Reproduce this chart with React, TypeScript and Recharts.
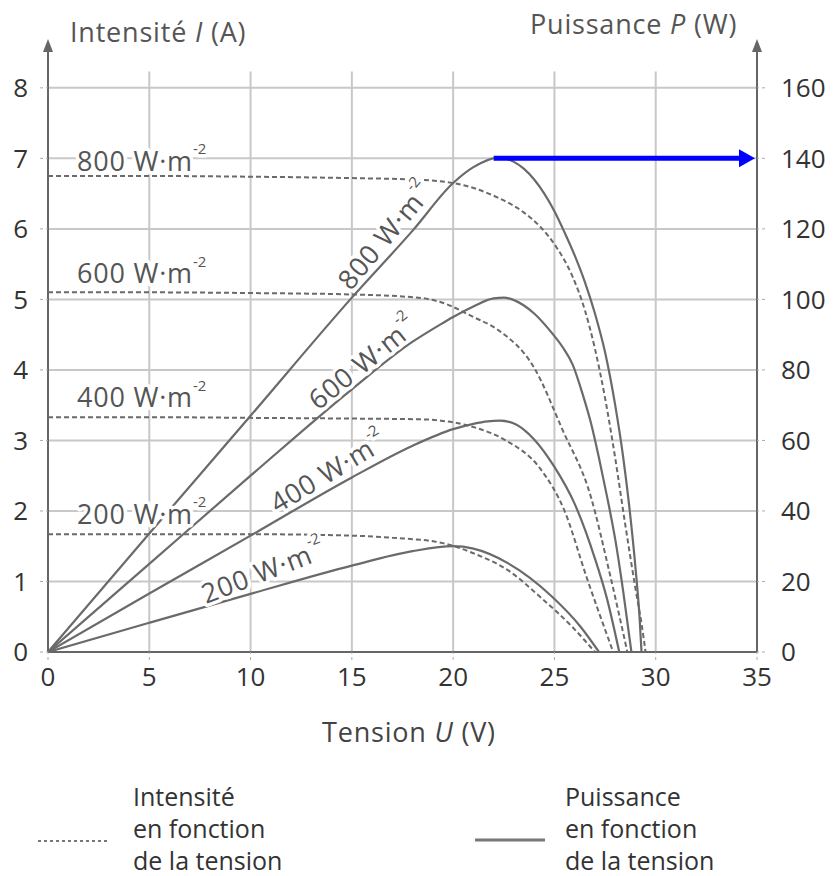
import React from "react"
import { LineChart, Line, XAxis, YAxis, ReferenceLine, ReferenceDot } from "recharts"

// Intensité I (A) en fonction de la tension U (V) — pointillés
const uI800 = [0, 5, 10, 15, 18, 20, 22, 23.5, 24.3, 25.1, 25.9, 26.5, 27, 27.5, 28, 28.5, 29, 29.3, 29.5]
const i800 = [6.75, 6.75, 6.74, 6.72, 6.7, 6.65, 6.47, 6.23, 6.03, 5.74, 5.32, 4.85, 4.3, 3.6, 2.75, 1.8, 0.9, 0.4, 0]
const uI600 = [0, 5, 10, 15, 18.4, 19.4, 21, 22.2, 24, 25.4, 26.8, 27.7, 28.6]
const i600 = [5.1, 5.1, 5.09, 5.07, 5.02, 4.96, 4.75, 4.57, 4.03, 3.15, 2.2, 1.15, 0]
const uI400 = [0, 5, 10, 15, 18.4, 19.4, 21, 22.6, 24.3, 25.5, 26.6, 27.9]
const i400 = [3.33, 3.33, 3.32, 3.31, 3.3, 3.28, 3.19, 3.0, 2.6, 2.0, 1.05, 0]
const uI200 = [0, 5, 10, 15, 17, 19.4, 21, 22.7, 24.3, 25.9, 27.0]
const i200 = [1.67, 1.67, 1.67, 1.65, 1.62, 1.55, 1.4, 1.16, 0.78, 0.35, 0]

// Puissance P (W) en fonction de la tension U (V) — traits pleins
const uP800 = [0, 5, 10, 15, 18, 20, 21, 22.3, 23, 23.5, 24, 24.5, 25, 25.5, 26, 26.5, 27, 27.5, 28, 28.4, 28.7, 29, 29.2, 29.3]
const p800 = [0, 33.6, 67, 100.5, 119.5, 133, 137.5, 140.3, 139, 137, 134, 130, 125, 119, 112.5, 105, 96, 85, 70, 55, 41, 24, 10, 0]
const uP600 = [0, 5, 10, 15, 18, 19.4, 20, 21, 22, 22.5, 23, 24, 24.8, 25.4, 25.9, 26.4, 26.8, 27.2, 27.6, 28, 28.4, 28.8]
const p600 = [0, 25, 50, 74.5, 88, 93, 95, 98, 100.3, 100.5, 99.8, 96, 91, 86.5, 81.5, 73, 65, 55, 44, 32, 17, 0]
const uP400 = [0, 5, 10, 15, 18, 20, 21, 21.7, 22.3, 23, 23.5, 24, 25, 26, 27, 27.6, 28.2]
const p400 = [0, 16.6, 33, 49.5, 58.5, 63.2, 64.7, 65.4, 65.6, 64.8, 63, 60.3, 52.5, 42, 26.5, 15, 0]
const uP200 = [0, 5, 10, 15, 18, 20, 21, 22.7, 24.9, 26.3, 27.2]
const p200 = [0, 8.3, 16.5, 24.5, 28.6, 30, 29.3, 25.2, 15.6, 7.1, 0]

const uTicks = [0, 5, 10, 15, 20, 25, 30, 35]
const iTicks = [0, 1, 2, 3, 4, 5, 6, 7, 8]
const pTicks = [0, 20, 40, 60, 80, 100, 120, 140, 160]
const levels = ["800", "600", "400", "200"]

const font = "'Open Sans', 'DejaVu Sans', sans-serif"
const curveInk = "#6a6a6a"
const gridInk = "#c8c8c8"

const zip = (us: number[], vs: number[]) => us.map((u, k) => ({ u, v: vs[k] }))

const iSeries = [zip(uI800, i800), zip(uI600, i600), zip(uI400, i400), zip(uI200, i200)]
const pSeries = [zip(uP800, p800), zip(uP600, p600), zip(uP400, p400), zip(uP200, p200)]

const labelShape = (level: string, angle: number, anchor: "start" | "middle") => (props: any) => {
  const { cx, cy } = props
  if (cx == null || cy == null) return <g />
  return (
    <text
      x={cx}
      y={cy}
      textAnchor={anchor}
      dominantBaseline="central"
      transform={angle ? `rotate(${angle} ${cx} ${cy})` : undefined}
      fill="#555"
      fontSize={27}
      letterSpacing={0.8}
      fontFamily={font}
      stroke="#fff"
      strokeWidth={7}
      strokeLinejoin="round"
      paintOrder="stroke"
    >
      {level} W·m<tspan dy={-12} fontSize={15} letterSpacing={0}>-2</tspan>
    </text>
  )
}

const axisArrow = (props: any) => {
  const { cx, cy } = props
  return <polygon points={`${cx},${cy - 3} ${cx - 5},${cy + 10} ${cx + 5},${cy + 10}`} fill="#666" />
}

const blueHead = (props: any) => {
  const { cx, cy } = props
  return <polygon points={`${cx - 2},${cy} ${cx - 18},${cy - 9} ${cx - 18},${cy + 9}`} fill="#0000ff" />
}

export default function App() {
  const tickStyle = { fill: "#333", fontSize: 26, fontFamily: font }
  const title = { position: "absolute" as const, fontSize: 27, letterSpacing: 0.8, color: "#555", whiteSpace: "nowrap" as const }
  return (
    <div style={{ position: "absolute", left: 0, top: 0, width: 835, height: 876, background: "#fff", fontFamily: font }}>
      <div style={{ ...title, left: 70, top: 13 }}>
        Intensité <i>I</i> (A)
      </div>
      <div style={{ ...title, left: 530, top: 5 }}>
        Puissance <i>P</i> (W)
      </div>
      <LineChart width={835} height={700} margin={{ top: 42, right: 0, bottom: 0, left: 0 }}>
        <XAxis
          dataKey="u"
          type="number"
          domain={[0, 35]}
          ticks={uTicks}
          tick={tickStyle}
          tickSize={8}
          tickMargin={8}
          tickLine={{ stroke: "#aaa", strokeDasharray: "3 3" }}
          axisLine={{ stroke: "#666", strokeWidth: 2 }}
          height={48}
        />
        <YAxis
          yAxisId="left"
          domain={[0, 8.65]}
          ticks={iTicks}
          tick={tickStyle}
          tickSize={8}
          tickMargin={12}
          tickLine={{ stroke: "#aaa", strokeDasharray: "3 3" }}
          axisLine={{ stroke: "#666", strokeWidth: 2 }}
          width={48}
          allowDataOverflow
        />
        <YAxis
          yAxisId="right"
          orientation="right"
          domain={[0, 173]}
          ticks={pTicks}
          tick={{ ...tickStyle, textAnchor: "start" }}
          tickSize={8}
          tickMargin={16}
          tickLine={{ stroke: "#aaa", strokeDasharray: "3 3" }}
          axisLine={{ stroke: "#666", strokeWidth: 2 }}
          width={78}
          allowDataOverflow
        />
        {iTicks.slice(1).map((t) => (
          <ReferenceLine key={`h${t}`} yAxisId="left" y={t} stroke={gridInk} strokeWidth={2} />
        ))}
        {uTicks.slice(1, -1).map((t) => (
          <ReferenceLine
            key={`v${t}`}
            yAxisId="left"
            segment={[{ x: t, y: 0 }, { x: t, y: 8.23 }]}
            stroke={gridInk}
            strokeWidth={2}
          />
        ))}
        {iSeries.map((d, k) => (
          <Line
            key={`i${levels[k]}`}
            yAxisId="left"
            data={d}
            dataKey="v"
            type="monotone"
            stroke={curveInk}
            strokeWidth={2}
            strokeDasharray="5 3"
            dot={false}
            activeDot={false}
            isAnimationActive={false}
          />
        ))}
        {pSeries.map((d, k) => (
          <Line
            key={`p${levels[k]}`}
            yAxisId="right"
            data={d}
            dataKey="v"
            type="monotone"
            stroke={curveInk}
            strokeWidth={2.2}
            dot={false}
            activeDot={false}
            isAnimationActive={false}
          />
        ))}
        <ReferenceDot yAxisId="left" x={1.43} y={6.97} r={0} shape={labelShape("800", 0, "start")} />
        <ReferenceDot yAxisId="left" x={1.43} y={5.38} r={0} shape={labelShape("600", 0, "start")} />
        <ReferenceDot yAxisId="left" x={1.43} y={3.62} r={0} shape={labelShape("400", 0, "start")} />
        <ReferenceDot yAxisId="left" x={1.43} y={1.97} r={0} shape={labelShape("200", 0, "start")} />
        <ReferenceDot yAxisId="left" x={16.6} y={5.91} r={0} shape={labelShape("800", -50, "middle")} />
        <ReferenceDot yAxisId="left" x={15.5} y={4.11} r={0} shape={labelShape("600", -39, "middle")} />
        <ReferenceDot yAxisId="left" x={13.8} y={2.56} r={0} shape={labelShape("400", -31, "middle")} />
        <ReferenceDot yAxisId="left" x={10.6} y={1.15} r={0} shape={labelShape("200", -21, "middle")} />
        <ReferenceLine
          yAxisId="right"
          segment={[{ x: 22, y: 140 }, { x: 34.3, y: 140 }]}
          stroke="#0000ff"
          strokeWidth={5}
        />
        <ReferenceDot yAxisId="right" x={35} y={140} r={0} shape={blueHead} />
        <ReferenceDot yAxisId="left" x={0} y={8.65} r={0} shape={axisArrow} ifOverflow="visible" />
        <ReferenceDot yAxisId="left" x={35} y={8.65} r={0} shape={axisArrow} ifOverflow="visible" />
      </LineChart>
      <div style={{ ...title, left: 322, top: 713, color: "#444" }}>
        Tension <i>U</i> (V)
      </div>
      <svg style={{ position: "absolute", left: 0, top: 830 }} width={835} height={20}>
        <line x1={38} x2={110} y1={11} y2={11} stroke="#777" strokeWidth={2} strokeDasharray="3 3" />
        <line x1={475} x2={545} y1={10} y2={10} stroke="#777" strokeWidth={3} />
      </svg>
      <div style={{ position: "absolute", left: 133, top: 780, fontSize: 25, lineHeight: "32px", color: "#333" }}>
        Intensité
        <br />
        en fonction
        <br />
        de la tension
      </div>
      <div style={{ position: "absolute", left: 565, top: 780, fontSize: 25, lineHeight: "32px", color: "#333" }}>
        Puissance
        <br />
        en fonction
        <br />
        de la tension
      </div>
    </div>
  )
}
